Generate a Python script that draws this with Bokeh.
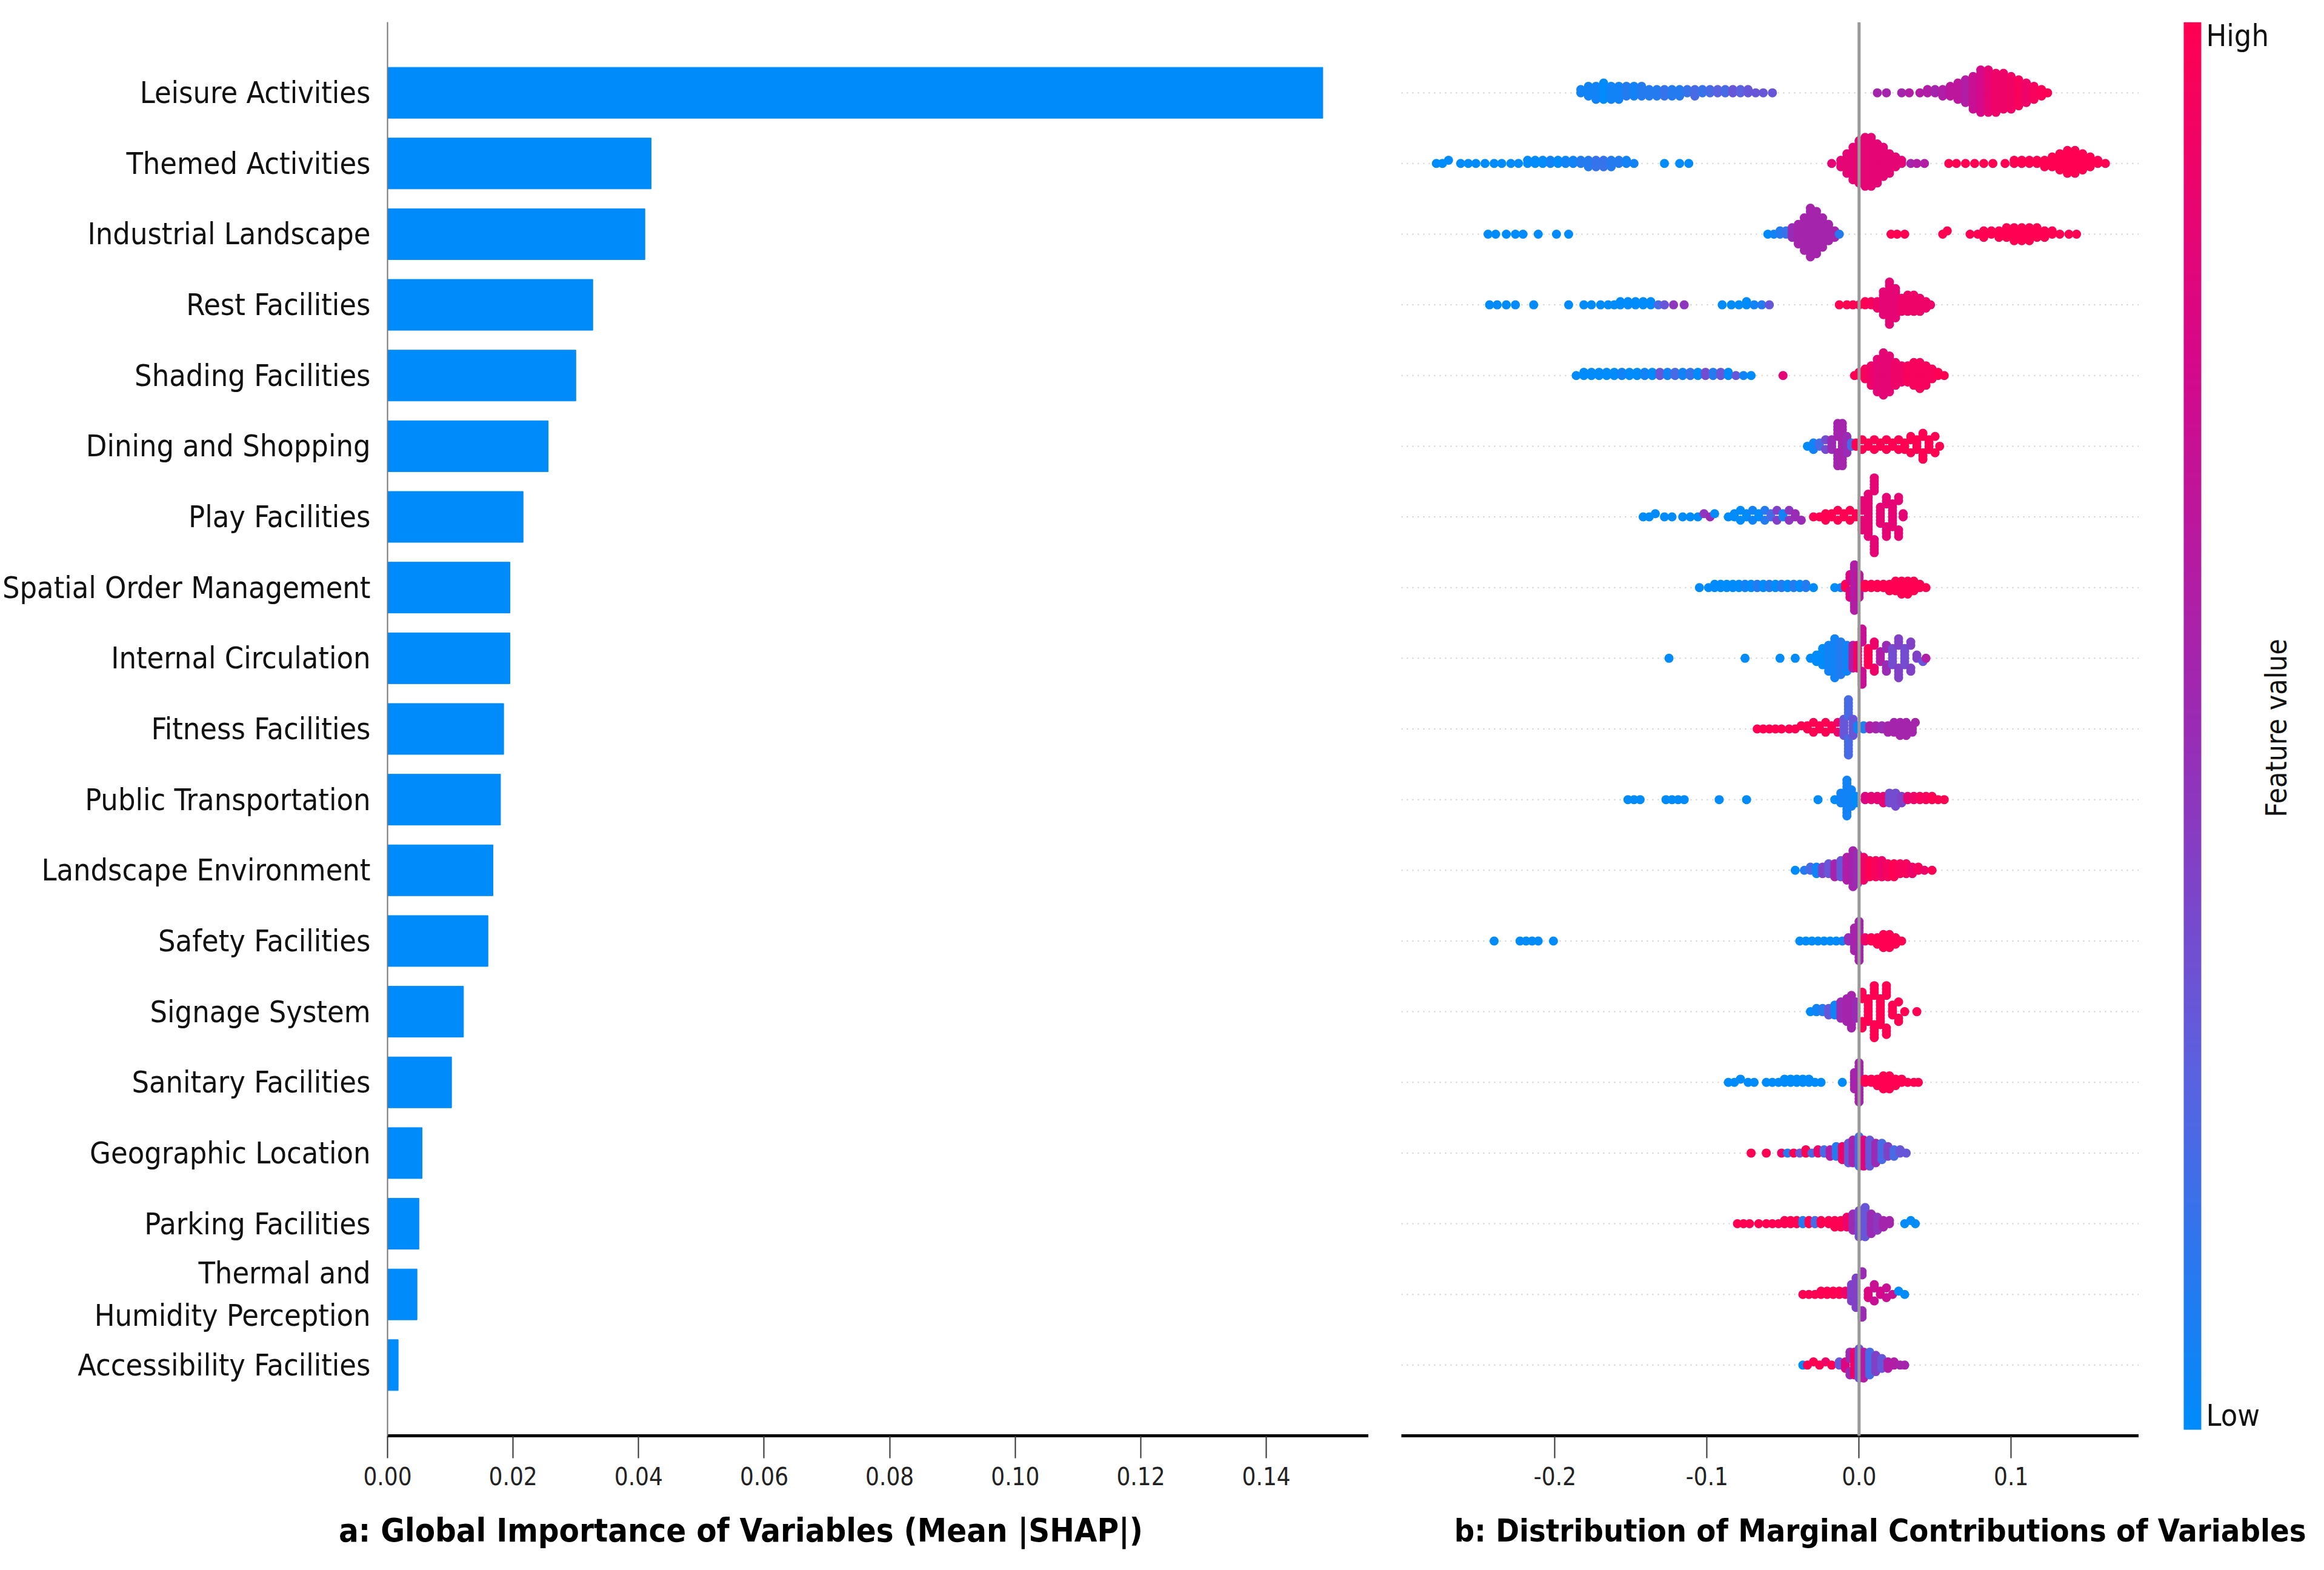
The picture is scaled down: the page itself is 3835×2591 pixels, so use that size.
import numpy as np
from bokeh.plotting import figure
from bokeh.layouts import row, column
from bokeh.models import FixedTicker, NumeralTickFormatter, Range1d, ColumnDataSource, LinearColorMapper, Span
from bokeh.core.properties import value
from bokeh.embed import file_html
from bokeh.resources import INLINE

FONT = "DejaVu Sans Condensed, Liberation Sans, sans-serif"

features = ["Leisure Activities", "Themed Activities", "Industrial Landscape", "Rest Facilities",
            "Shading Facilities", "Dining and Shopping", "Play Facilities", "Spatial Order Management",
            "Internal Circulation", "Fitness Facilities", "Public Transportation", "Landscape Environment",
            "Safety Facilities", "Signage System", "Sanitary Facilities", "Geographic Location",
            "Parking Facilities", "Thermal and\nHumidity Perception", "Accessibility Facilities"]
mean_shap = [0.149, 0.042, 0.041, 0.0327, 0.030, 0.0256, 0.0216, 0.0195, 0.0195, 0.0185, 0.018,
             0.0168, 0.016, 0.0121, 0.0102, 0.0055, 0.005, 0.0047, 0.0017]
bar_ticks = [0.0, 0.02, 0.04, 0.06, 0.08, 0.10, 0.12, 0.14]
swarm_ticks = [-0.2, -0.1, 0.0, 0.1]

# beeswarm entries: (shap value in thousandths, feature value 0..1, number of dots)
leisure = [(-183,.05,2),(-178,.05,4),(-173,.05,5),(-168,0,6),(-163,.05,5),(-158,.05,5),(-153,.1,4),(-148,.05,4),(-143,.1,4),(-138,.1,3),(-133,.1,3),(-128,.15,3),(-123,.1,3),(-118,.1,3),(-113,.15,2),(-108,.2,3),(-103,.15,2),(-98,.2,2),(-93,.25,2),(-88,.2,2),(-83,.3,2),(-78,.25,2),(-73,.3,2),(-68,.3,1),(-63,.3,1),(-57,.3,1),
           (12,.55,1),(18,.55,1),(28,.55,1),(33,.6,1),(40,.6,1),(45,.6,2),(50,.55,2),(55,.6,3),(60,.65,4),(65,.65,6),(70,.6,8),(75,.7,11),(80,.75,14),(85,.85,14),(90,.9,13),(95,.9,12),(100,.92,11),(105,.95,9),(110,.9,7),(115,.95,5),(120,.98,3),(124,1,1)]
themed = [(-278,0,1),(-274,0,1),(-270,0,1),(-262,0,1),(-257,0,1),(-252,0,1),(-246,0,1),(-240,0,1),(-235,0,1),(-229,0,1),(-224,0,1),(-218,0,2),(-213,0,2),(-208,0,2),(-203,.05,2),(-198,0,2),(-193,.05,2),(-188,.05,2),(-183,.1,2),(-178,.1,3),(-173,.15,3),(-168,.15,3),(-163,.1,3),(-158,.1,2),(-153,.05,2),(-148,.05,1),(-128,0,1),(-118,0,1),(-112,0,1),
          (-18,.85,1),(-12,.85,3),(-8,.85,7),(-4,.85,11),(0,.85,14),(4,.85,16),(8,.85,16),(12,.85,13),(16,.85,10),(20,.85,7),(24,.85,4),(28,.85,2),(34,.55,1),(38,.6,1),(43,.6,1),
          (59,1,1),(64,1,1),(70,1,1),(76,1,1),(82,1,1),(88,1,1),(96,1,1),(102,1,2),(107,1,2),(112,1,2),(117,1,2),(122,1,3),(127,1,4),(132,1,6),(137,1,8),(142,1,8),(147,1,6),(152,1,4),(157,1,2),(162,1,1)]
industrial = [(-244,0,1),(-239,0,1),(-232,0,1),(-226,0,1),(-221,0,1),(-211,0,1),(-199,0,1),(-191,0,1),
              (-60,0,1),(-56,.05,1),(-52,.1,2),(-48,.15,2),(-44,.5,4),(-40,.55,7),(-36,.55,11),(-32,.55,16),(-28,.55,14),(-24,.55,10),(-20,.55,6),(-16,.55,3),(-13,.1,1),
              (21,1,1),(25,1,1),(30,1,1),(55,1,1),(58,1,1),(73,1,1),(78,1,1),(82,1,2),(87,1,2),(92,1,3),(97,1,4),(102,1,5),(107,1,5),(112,1,5),(117,1,4),(122,1,3),(127,1,2),(132,1,1),(138,1,1),(143,1,1)]
rest = [(-243,0,1),(-238,0,1),(-232,0,1),(-226,0,1),(-214,0,1),(-191,0,1),(-181,0,1),(-176,0,1),(-170,0,1),(-165,0,1),(-161,0,1),(-157,0,2),(-152,0,2),(-147,0,2),(-142,0,2),(-137,0,2),(-132,.2,1),(-128,.3,1),(-122,.45,1),(-115,.45,1),(-90,0,1),(-84,0,1),(-79,0,1),(-74,0,2),(-69,.05,1),(-64,.1,1),(-59,.3,1),
        (-13,1,1),(-8,1,1),(-4,1,1),(0,1,1),(4,1,2),(8,.95,2),(12,.9,3),(16,.85,8),(20,.85,14),(24,.85,10),(28,.9,5),(32,.9,6),(36,.9,6),(40,.9,5),(44,.9,3),(47,.9,1)]
shading = [(-186,0,1),(-181,0,2),(-176,0,2),(-171,0,2),(-166,0,2),(-161,0,2),(-156,.05,2),(-151,0,2),(-146,0,2),(-141,.05,2),(-136,0,2),(-131,.3,2),(-126,.05,2),(-121,.2,2),(-116,.05,2),(-111,.15,2),(-106,0,2),(-101,.35,2),(-96,.1,2),(-91,.3,2),(-86,0,2),(-81,.3,1),(-76,.05,1),(-71,0,1),(-50,.85,1),
           (-3,1,1),(0,1,2),(4,.95,4),(8,.9,7),(12,.85,11),(16,.85,14),(20,.85,12),(24,.9,8),(28,.9,6),(32,.95,6),(36,.95,8),(40,.95,9),(44,.95,7),(48,.95,4),(52,1,2),(56,1,1)]
dining = [(-34,0,1),(-30,.05,2),(-26,.2,2),(-22,.35,2),(-18,.5,4),(-14,.55,10),(-11,.55,14),(-8,.5,6),(-5,.2,2),(-2,1,2),(2,1,2),(6,1,2),(10,1,2),(14,1,2),(18,1,2),(22,1,2),(26,1,2),(30,1,3),(34,1,3),(38,1,4),(42,1,5),(46,1,4),(50,1,2),(53,1,1)]
play = [(-142,0,1),(-138,0,1),(-134,0,1),(-128,0,1),(-123,0,1),(-116,0,1),(-111,0,1),(-106,0,1),(-102,.45,1),(-98,.5,1),(-95,0,1),(-86,0,1),(-82,0,2),(-78,0,2),(-74,0,2),(-70,.05,2),(-66,0,2),(-62,.1,2),(-58,.2,2),(-54,.4,2),(-50,.05,2),(-46,.45,2),(-42,.5,2),(-38,.5,1),
        (-30,1,1),(-26,1,1),(-22,1,2),(-18,1,2),(-14,1,2),(-10,1,2),(-6,1,2),(-2,1,2),(2,.85,8),(6,.85,14),(10,.85,10),(14,.85,6),(18,.85,7),(22,.85,8),(26,.85,5),(29,.85,2)]
spatial = [(-105,0,1),(-99,0,1),(-95,0,2),(-91,0,2),(-87,0,2),(-83,0,2),(-79,0,2),(-75,.05,2),(-71,0,2),(-67,.1,2),(-63,0,2),(-59,.1,2),(-55,0,2),(-51,.1,2),(-47,0,2),(-43,.1,2),(-39,0,2),(-35,.1,2),(-30,0,1),(-16,0,1),(-12,.05,1),(-9,1,2),(-6,.8,6),(-3,.6,15),(0,.65,8),
           (4,1,2),(8,1,2),(12,1,2),(16,1,2),(20,1,3),(24,1,4),(28,1,5),(32,1,5),(36,1,4),(40,1,2),(44,1,1)]
internal = [(-125,0,1),(-75,0,1),(-52,0,1),(-42,0,1),(-32,0,1),(-28,0,3),(-24,0,6),(-20,.05,9),(-16,.05,13),(-12,.1,11),(-8,.05,9),(-4,.6,8),(-1,.9,8),(2,.7,10),(6,1,6),(10,.9,4),(14,.6,4),(18,.5,5),(22,.35,6),(26,.4,7),(30,.35,6),(34,.4,4),(38,.4,2),(42,.3,1),(44,.6,1)]
fitness = [(-67,1,1),(-63,1,1),(-59,1,1),(-55,1,1),(-51,1,1),(-46,1,1),(-42,1,1),(-38,1,1),(-34,1,2),(-30,1,2),(-26,1,2),(-22,1,2),(-18,1,2),(-14,.9,2),(-10,.3,6),(-7,.2,12),(-4,.3,6),(-1,.05,2),(3,.1,2),(7,.6,2),(11,.55,2),(15,.5,2),(19,.55,3),(23,.55,4),(27,.55,5),(31,.55,5),(35,.55,3),(37,.55,1)]
public = [(-152,0,1),(-148,0,1),(-144,0,1),(-127,0,1),(-123,0,1),(-119,0,1),(-115,0,1),(-92,0,1),(-74,0,1),(-27,0,1),(-16,0,1),(-12,.05,4),(-8,.05,12),(-5,.05,6),(-2,0,3),(4,.8,2),(8,.85,2),(12,.85,2),(16,.85,3),(20,.35,4),(24,.35,5),(28,.4,3),(32,.85,2),(36,.9,2),(40,.95,2),(44,.95,2),(48,1,2),(52,1,1),(56,1,1)]
landscape = [(-42,0,1),(-36,.1,1),(-32,.2,2),(-28,.05,3),(-24,.4,3),(-20,.3,4),(-16,.55,5),(-12,.3,6),(-8,.6,8),(-4,.55,12),(-1,.5,10),(3,.9,8),(7,1,6),(11,.95,6),(15,.9,6),(19,.95,5),(23,1,5),(27,.95,4),(31,.95,4),(35,.9,3),(39,.95,2),(43,.9,1),(48,1,1)]
safety = [(-240,0,1),(-223,0,1),(-219,0,1),(-215,0,1),(-211,0,1),(-201,0,1),(-39,0,1),(-35,0,1),(-31,0,1),(-27,0,1),(-23,0,1),(-19,0,1),(-15,0,1),(-11,.05,1),(-7,.5,2),(-3,.55,8),(0,.55,13),(4,.9,2),(8,1,2),(12,1,3),(16,1,5),(20,1,5),(24,1,3),(28,1,1)]
signage = [(-32,0,1),(-28,.05,2),(-24,.1,2),(-20,.3,3),(-16,.05,4),(-12,.5,6),(-8,.55,8),(-5,.55,11),(-2,.5,6),(2,1,6),(6,1,8),(10,1,9),(14,1,9),(18,1,7),(22,1,4),(26,1,3),(30,1,1),(38,1,1)]
sanitary = [(-86,0,1),(-82,0,1),(-78,0,1),(-73,0,1),(-69,0,1),(-61,0,1),(-57,0,1),(-53,0,1),(-49,0,2),(-45,0,2),(-41,0,2),(-37,0,2),(-33,0,2),(-29,0,1),(-25,0,1),(-11,0,1),(-3,.55,6),(0,.55,13),(4,1,2),(8,1,2),(12,1,3),(16,1,5),(20,1,5),(24,1,3),(28,1,2),(32,1,1),(36,1,1),(39,1,1)]
geographic = [(-71,1,1),(-61,1,1),(-51,.9,1),(-47,.1,1),(-43,1,1),(-39,.3,1),(-35,1,2),(-31,.2,1),(-27,.9,2),(-23,.2,2),(-19,.6,3),(-15,.1,4),(-11,.9,5),(-7,.3,7),(-4,.55,8),(0,.2,10),(3,.8,9),(7,.3,9),(11,.5,7),(15,.2,6),(19,.4,4),(23,.2,3),(27,.3,2),(31,.3,1)]
parking = [(-80,1,1),(-76,1,1),(-72,1,1),(-66,1,1),(-61,1,1),(-57,1,1),(-53,1,1),(-49,1,2),(-45,1,2),(-41,1,2),(-37,.1,2),(-33,1,2),(-29,.2,2),(-25,1,2),(-20,1,2),(-16,1,3),(-12,1,3),(-8,.9,4),(-4,.5,6),(0,.35,9),(4,.3,10),(8,.5,7),(12,.45,5),(16,.55,3),(20,.55,2),(30,0,1),(34,0,1),(37,0,1)]
thermal = [(-37,1,1),(-33,1,1),(-29,1,1),(-25,1,2),(-21,1,2),(-17,1,2),(-13,1,2),(-9,.9,2),(-5,.4,6),(-2,.4,10),(2,.5,5),(6,.8,3),(10,.7,3),(14,.75,2),(18,.7,2),(22,.7,1),(26,0,1),(30,0,1)]
access = [(-37,0,1),(-34,1,1),(-30,1,1),(-26,1,1),(-22,.9,1),(-18,1,1),(-13,.3,2),(-9,.8,3),(-6,.5,5),(-3,.9,8),(0,.3,10),(3,.6,9),(7,.2,8),(11,.4,6),(15,.3,4),(19,.6,3),(23,.6,2),(27,.55,1),(30,.55,1)]
swarm_rows = [leisure, themed, industrial, rest, shading, dining, play, spatial, internal, fitness,
              public, landscape, safety, signage, sanitary, geographic, parking, thermal, access]

# colormap (SHAP-like blue -> purple -> red)
anchors = [(0.0, (0, 139, 251)), (0.25, (91, 98, 224)), (0.5, (154, 43, 180)), (0.75, (211, 9, 140)), (1.0, (255, 0, 82))]
palette = []
for i in range(256):
    t = i / 255
    for (a, ca), (b, cb) in zip(anchors[:-1], anchors[1:]):
        if a <= t <= b:
            f = (t - a) / (b - a)
            c = [int(round(ca[k] + (cb[k] - ca[k]) * f)) for k in range(3)]
            palette.append("#%02x%02x%02x" % tuple(c))
            break
mapper = LinearColorMapper(palette=palette, low=0, high=1)

n = len(features)
ys = [n - 1 - i for i in range(n)]
FH = 2333
TOP, BOT = 36, 100

# ---- left: bar chart
p1 = figure(frame_width=1619, frame_height=FH, x_range=Range1d(0, 0.1563), y_range=Range1d(-1, n),
            output_backend="svg", toolbar_location=None, min_border_left=637, min_border_right=0,
            min_border_top=TOP, min_border_bottom=BOT)
p1.hbar(y=ys, right=mean_shap, left=0, height=0.72, color="#008bfb")
p1.xaxis.ticker = FixedTicker(ticks=bar_ticks)
p1.xaxis.formatter = NumeralTickFormatter(format="0.00")
p1.yaxis.ticker = FixedTicker(ticks=ys)
p1.yaxis.major_label_overrides = {y: f for y, f in zip(ys, features)}
p1.yaxis.major_tick_line_color = None
p1.yaxis.minor_tick_line_color = None
p1.yaxis.axis_line_color = "#777777"
p1.yaxis.axis_line_width = 2
p1.yaxis.major_label_text_font = FONT
p1.yaxis.major_label_text_font_size = "50px"
p1.yaxis.major_label_text_color = "#111111"
p1.yaxis.major_label_standoff = 22

# ---- right: beeswarm
p2 = figure(frame_width=1217, frame_height=FH, x_range=Range1d(-0.301, 0.184), y_range=Range1d(-1, n),
            output_backend="svg", toolbar_location=None, min_border_left=54, min_border_right=0,
            min_border_top=TOP, min_border_bottom=BOT)
p2.yaxis.visible = False
for y in ys:
    p2.segment(x0=-0.301, x1=0.184, y0=y, y1=y, line_color="#cccccc", line_width=2, line_dash="2 7")
p2.add_layout(Span(location=0, dimension="height", line_color="#999999", line_width=5))
xs_all, ys_all, vs_all = [], [], []
STEP = 0.046
for i, entries in enumerate(swarm_rows):
    yc = n - 1 - i
    bins = {}
    for x, v, cnt in entries:
        b = round(x / 4)
        for _ in range(cnt):
            k = bins.get(b, 0)
            bins[b] = k + 1
            off = ((k + 1) // 2) * (1 if k % 2 else -1)
            xs_all.append(x / 1000)
            ys_all.append(yc + off * STEP)
            vs_all.append(v)
src = ColumnDataSource(dict(x=xs_all, y=ys_all, v=vs_all))
p2.scatter("x", "y", source=src, size=15, line_color=None,
           fill_color={"field": "v", "transform": mapper})
p2.xaxis.ticker = FixedTicker(ticks=swarm_ticks)
p2.xaxis.formatter = NumeralTickFormatter(format="0.0")

for p in (p1, p2):
    p.grid.visible = False
    p.outline_line_color = None
    p.xaxis.axis_line_color = "black"
    p.xaxis.axis_line_width = 5
    p.xaxis.major_tick_line_color = "#333333"
    p.xaxis.major_tick_line_width = 2
    p.xaxis.major_tick_out = 37
    p.xaxis.major_tick_in = 0
    p.xaxis.minor_tick_line_color = None
    p.xaxis.major_label_text_font = FONT
    p.xaxis.major_label_text_font_size = "40px"
    p.xaxis.major_label_text_color = "#222222"
    p.xaxis.major_label_standoff = 14

# ---- colorbar
p3 = figure(frame_width=292, frame_height=FH, x_range=Range1d(0, 292), y_range=Range1d(0, FH),
            output_backend="svg", toolbar_location=None, min_border_left=0, min_border_right=0,
            min_border_top=TOP, min_border_bottom=BOT)
p3.axis.visible = False
p3.grid.visible = False
p3.outline_line_color = None
p3.image(image=[np.linspace(0, 1, 256).reshape(256, 1)], x=74, y=10, dw=29, dh=FH - 10,
         color_mapper=mapper)
p3.text(x=[111, 111], y=[FH - 22, 34], text=["High", "Low"], text_font=value(FONT), text_font_size="50px",
        text_baseline="middle", text_color="#111111")
p3.text(x=[226], y=[1168], text=["Feature value"], text_font=value(FONT), text_font_size="48px",
        text_baseline="middle", text_align="center", angle=np.pi / 2, text_color="#111111")

# ---- titles
p4 = figure(width=3819, height=106, x_range=Range1d(0, 3819), y_range=Range1d(0, 106),
            output_backend="svg", toolbar_location=None, min_border=0)
p4.axis.visible = False
p4.grid.visible = False
p4.outline_line_color = None
p4.text(x=[1222], y=[50], text=["a: Global Importance of Variables (Mean |SHAP|)"],
        text_font=value(FONT), text_font_size="54px", text_font_style="bold", text_align="center",
        text_baseline="middle", text_color="#000000")
p4.text(x=[3805], y=[50], text=["b: Distribution of Marginal Contributions of Variables"],
        text_font=value(FONT), text_font_size="52px", text_font_style="bold", text_align="right",
        text_baseline="middle", text_color="#000000")

layout = column(row(p1, p2, p3), p4)
open("out.html", "w").write(file_html(layout, INLINE))
